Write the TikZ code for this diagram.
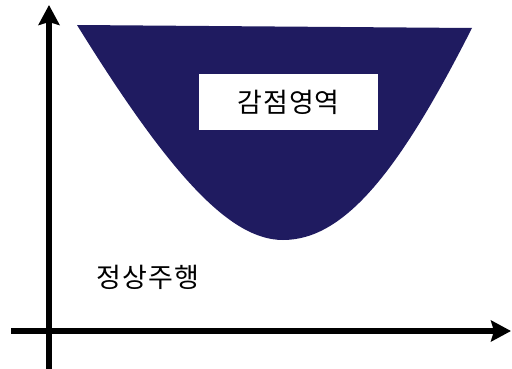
\documentclass[tikz,border=0pt]{standalone}
\usepackage{fontspec}
\newfontfamily\krfont[LetterSpace=4]{Noto Sans CJK KR}
\usepackage{tikz}
\usetikzlibrary{positioning,calc}
\usetikzlibrary{arrows.meta}
\definecolor{ZoneNavy}{RGB}{31,27,96}
\tikzset{
	axis/.style={draw=black,line width=6pt,-{Stealth[length=20pt,width=21pt,inset=3pt]}},
	zone/.style={fill=ZoneNavy,draw=none},
	tag/.style={fill=white,inner sep=0pt,minimum width=179pt,minimum height=56pt,
		font=\krfont\fontsize{27}{32}\selectfont},
	plain/.style={inner sep=0pt,font=\krfont\fontsize{27}{32}\selectfont},
}

\begin{document}
\begin{tikzpicture}[x=1pt,y=-1pt]
					\useasboundingbox (0,0) rectangle (512,369);
					% axes
					\coordinate (xl) at (11,331);
					\coordinate (xr) at (511,331);
					\coordinate (yb) at (49,369);
					\coordinate (yt) at (49,5);
					% penalty zone
					\coordinate (tl) at (77,25);
					\coordinate (tr) at (472,28);
					\coordinate (bot) at (283,240);
					\fill[zone] (tl) .. controls (170,175) and (230,240) .. (bot)
						.. controls (345,240) and (400,170) .. (tr) -- cycle;
					\foreach \a/\b in {xl/xr,yb/yt}
					\draw[axis] (\a)--(\b);
					\node[tag] (zonelabel) at (288.5,102) {감점영역};
					\node[plain] (normal) at (148,277) {정상주행};
				\end{tikzpicture}
\end{document}
